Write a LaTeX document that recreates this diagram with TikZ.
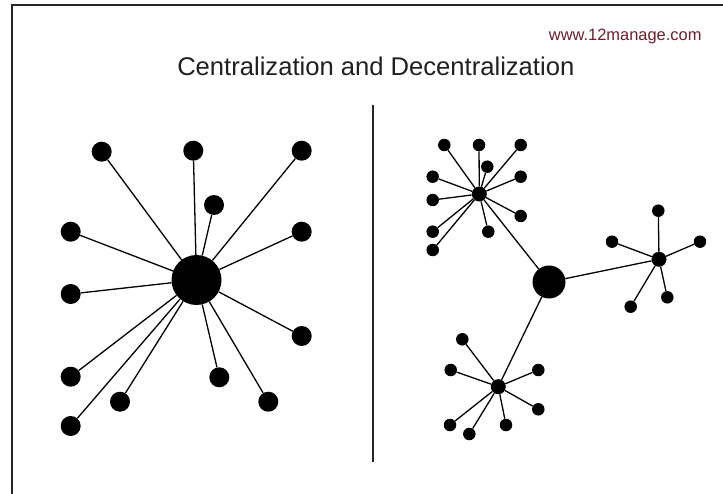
\documentclass[tikz,border=0pt]{standalone}
\usepackage{fontspec}
\setmainfont{Liberation Sans}
\definecolor{webred}{HTML}{6E1E2E}
\definecolor{titlegray}{HTML}{202020}
\begin{document}
\begin{tikzpicture}[x=1bp,y=-1bp,
  bigdot/.style={circle,fill=black,inner sep=0pt,minimum size=50bp},
  leaf/.style={circle,fill=black,inner sep=0pt,minimum size=20bp},
  midhub/.style={circle,fill=black,inner sep=0pt,minimum size=33bp},
  hub/.style={circle,fill=black,inner sep=0pt,minimum size=15bp},
  smallleaf/.style={circle,fill=black,inner sep=0pt,minimum size=12.5bp},
  link/.style={line width=1.3bp,black},
  frameline/.style={line width=2bp,black!85}]
\useasboundingbox (0,0) rectangle (723,494);
\fill[white] (0,0) rectangle (723,494);
% frame
\draw[frameline] (12,494) -- (12,5) -- (723,5);
% texts
\node[font=\fontsize{16.5}{20}\selectfont,text=webred,anchor=base east,inner sep=0pt] (web) at (701.7,41) {www.12manage.com};
\node[font=\fontsize{25.7}{30}\selectfont,text=titlegray,anchor=base,inner sep=0pt] (title) at (375.8,76) {Centralization and Decentralization};
% divider
\coordinate (dtop) at (373.3,105);
\coordinate (dbot) at (373.3,461.5);
\draw[line width=2bp,black!85] (dtop) -- (dbot);
% left star
\node[bigdot] (C) at (196.5,280) {};
\foreach \n/\x/\y in {1/101.7/151.7, 2/193.3/150.7, 3/301.7/150.7, 4/214/205,
  5/70.7/231.7, 6/301.7/231.7, 7/70.7/294, 8/301.7/336, 9/70.7/376.7,
  10/219.3/377.3, 11/120/401.7, 12/268.3/401.7, 13/70.7/426}{
  \node[leaf] (L\n) at (\x,\y) {};
  \draw[link] (C) -- (L\n);
}
% right network
\node[midhub] (M) at (549,282) {};
\node[hub] (A) at (479.3,194) {};
\node[hub] (B) at (659,259.3) {};
\node[hub] (H) at (498.3,386.7) {};
\draw[link] (M) -- (A);
\draw[link] (M) -- (B);
\draw[link] (M) -- (H);
\foreach \n/\x/\y in {1/444.3/145, 2/479/145, 3/520.7/145, 4/487.3/166.7,
  5/432.7/176.7, 6/520.7/176.7, 7/432.7/200, 8/520.7/216, 9/432.7/231.7,
  10/488.3/231.7, 11/432.7/250}{
  \node[smallleaf] (a\n) at (\x,\y) {};
  \draw[link] (A) -- (a\n);
}
\foreach \n/\x/\y in {1/658.3/210.7, 2/612/241.7, 3/700/241.7, 4/630.7/306.7, 5/667.3/297.3}{
  \node[smallleaf] (b\n) at (\x,\y) {};
  \draw[link] (B) -- (b\n);
}
\foreach \n/\x/\y in {1/462.3/339.3, 2/450.7/370, 3/538.3/370, 4/538.3/409.3,
  5/450/425, 6/469.3/434, 7/506/425}{
  \node[smallleaf] (c\n) at (\x,\y) {};
  \draw[link] (H) -- (c\n);
}
\end{tikzpicture}
\end{document}
